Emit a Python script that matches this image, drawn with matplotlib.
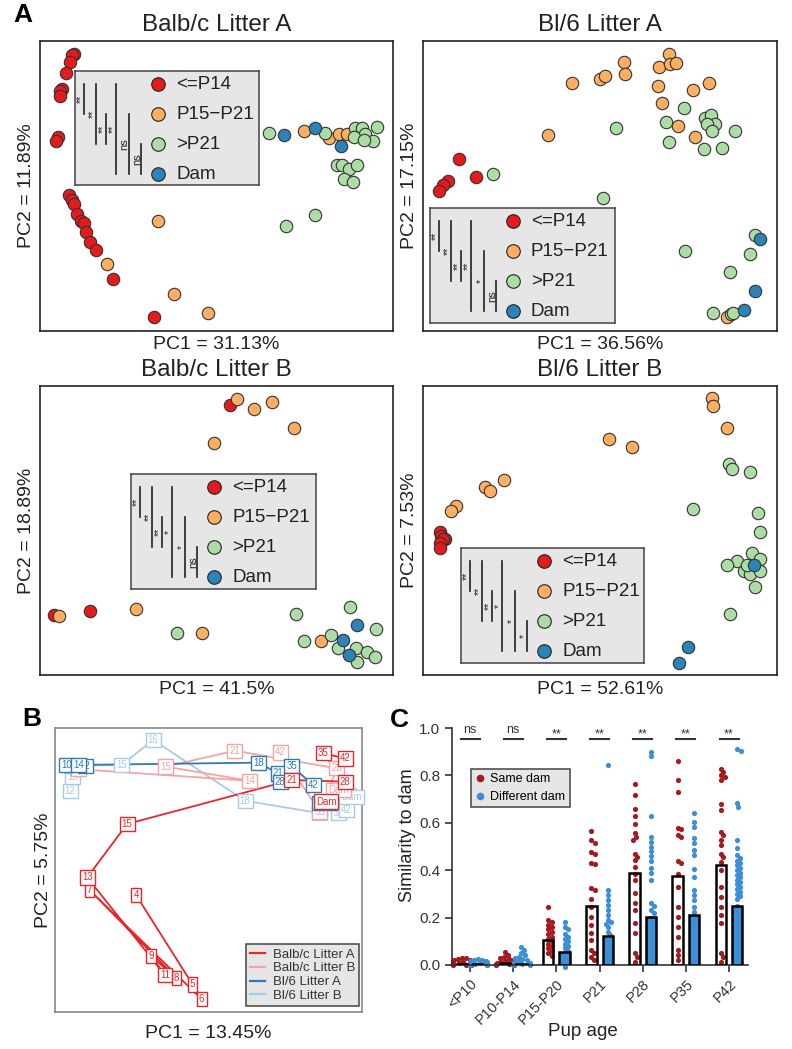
import numpy as np
import matplotlib
matplotlib.use("Agg")
import matplotlib.pyplot as plt
from matplotlib.lines import Line2D

plt.rcParams['font.family'] = ['Liberation Sans', 'DejaVu Sans']

W, H = 792, 1049

# ---- panel A: PCA scores (arbitrary units, 0-100 inside each box) ----
group_names = ['<=P14', 'P15\u2212P21', '>P21', 'Dam']
group_colors = ['#e41a1c', '#fdae61', '#abdda4', '#2b83ba']

balbc_a_le14 = [(9.6, 95.6), (9.2, 95.1), (8.5, 92.8), (7.5, 89.0), (6.1, 83.6), (5.8, 82.8),
                (5.6, 81.0), (5.1, 66.9), (4.6, 65.4), (8.2, 47.0), (9.0, 45.3), (9.6, 43.7),
                (10.6, 40.5), (11.5, 37.8), (12.5, 37.2), (13.1, 34.1), (14.3, 30.7), (16.0, 27.8),
                (20.8, 18.0), (32.3, 4.8)]
balbc_a_p15 = [(33.4, 37.8), (18.9, 23.2), (37.9, 12.9), (47.6, 6.3), (74.7, 69.0), (81.8, 66.7),
               (84.6, 68.0), (87.0, 67.8)]
balbc_a_gt21 = [(64.8, 68.4), (80.8, 68.4), (89.3, 70.0), (91.2, 70.0), (92.2, 68.0), (94.3, 65.5),
                (95.5, 70.3), (88.9, 66.9), (84.2, 57.1), (85.6, 57.4), (87.5, 56.0), (89.8, 57.1),
                (86.0, 52.5), (88.7, 51.4), (78.0, 39.9), (69.8, 36.1), (91.7, 65.7)]
balbc_a_dam = [(69.1, 67.5), (78.0, 70.1), (85.3, 63.8)]

bl6_a_le14 = [(10.2, 59.2), (14.9, 53.0), (7.1, 51.7), (5.7, 50.2), (4.5, 48.2)]
bl6_a_p15 = [(42.0, 85.6), (50.0, 86.8), (51.4, 87.9), (56.8, 92.8), (57.1, 88.5), (66.8, 91.0),
             (69.6, 95.6), (69.8, 92.2), (71.5, 92.4), (66.5, 84.5), (76.4, 83.2), (80.7, 85.5),
             (67.5, 78.6), (71.9, 70.7), (76.9, 66.9), (35.2, 67.7), (85.8, 4.8)]
bl6_a_gt21 = [(73.8, 77.0), (68.7, 72.1), (79.7, 73.6), (81.3, 74.4), (82.5, 71.3), (80.2, 71.5),
              (81.6, 69.0), (88.0, 69.0), (69.6, 65.2), (79.4, 62.9), (84.4, 63.1), (54.4, 70.0),
              (19.8, 54.0), (50.9, 46.0), (74.1, 27.5), (93.9, 33.2), (92.3, 26.7), (86.8, 20.3),
              (81.9, 6.3), (87.0, 5.7), (87.7, 6.3)]
bl6_a_dam = [(95.3, 31.8), (93.9, 13.8), (90.8, 7.4)]

balbc_b_le14 = [(53.8, 93.3), (14.2, 22.1), (4.0, 20.7)]
balbc_b_p15 = [(55.7, 95.5), (60.6, 91.9), (65.8, 94.6), (71.9, 85.5), (49.4, 80.4), (5.4, 20.5),
               (27.3, 22.7), (45.8, 14.7), (79.7, 11.8)]
balbc_b_gt21 = [(38.9, 14.7), (72.5, 21.0), (87.7, 23.6), (95.3, 15.8), (74.7, 11.8), (82.5, 13.8),
                (84.4, 9.3), (89.6, 9.3), (92.6, 8.1), (95.0, 6.3), (89.8, 4.6)]
balbc_b_dam = [(89.8, 17.3), (85.8, 12.1), (87.6, 6.9)]

bl6_b_le14 = [(4.7, 49.5), (5.2, 48.0), (6.1, 47.2), (5.7, 46.9), (4.7, 45.7), (4.9, 44.1)]
bl6_b_p15 = [(81.6, 95.9), (81.8, 93.1), (86.0, 85.5), (52.6, 81.8), (59.0, 78.9), (22.9, 67.4),
             (17.6, 64.9), (18.9, 63.7), (9.2, 58.5), (7.8, 56.8)]
bl6_b_gt21 = [(86.3, 72.9), (87.3, 71.2), (92.5, 70.3), (76.4, 57.6), (94.5, 56.2), (95.1, 49.5),
              (92.9, 42.1), (88.7, 39.5), (86.0, 38.2), (95.1, 40.0), (90.8, 36.1), (92.5, 34.9),
              (95.3, 35.9), (93.7, 30.3), (86.6, 21.1), (91.5, 38.0)]
bl6_b_dam = [(93.4, 38.2), (74.8, 9.6), (72.2, 4.3)]

pca_titles = ['Balb/c Litter A', 'Bl/6 Litter A', 'Balb/c Litter B', 'Bl/6 Litter B']
pc1_labels = ['PC1 = 31.13%', 'PC1 = 36.56%', 'PC1 = 41.5%', 'PC1 = 52.61%']
pc2_labels = ['PC2 = 11.89%', 'PC2 = 17.15%', 'PC2 = 18.89%', 'PC2 = 7.53%']
sig_balbc_a = ['**', '**', '**', '**', 'ns', 'ns']
sig_bl6_a = ['**', '**', '**', '**', '*', 'ns']
sig_balbc_b = ['**', '**', '**', '*', '*', 'ns']
sig_bl6_b = ['**', '**', '**', '*', '*', '*']

# ---- panel B: trajectories ----
traj_names = ['Balb/c Litter A', 'Balb/c Litter B', 'Bl/6 Litter A', 'Bl/6 Litter B']
traj_colors = ['#e8262a', '#f5a3a3', '#2c7bb6', '#a6cbe8']
balbc_a_days = ['4', '5', '6', '7', '8', '9', '11', '13', '15', '21', '28', '35', '42']
balbc_a_pc1 = [26.4, 44.8, 47.8, 11.2, 39.6, 31.2, 35.8, 10.5, 23.5, 77.1, 94.5, 87.4, 94.5]
balbc_a_pc2 = [41.2, 9.7, 4.5, 43.0, 11.9, 19.7, 13.0, 47.4, 66.2, 81.7, 81.1, 91.1, 89.3]
balbc_a_dampos = (88.3, 74.1)
balbc_b_days = ['7', '10', '14', '15', '21', '28', '35', '42']
balbc_b_pc1 = [6.5, 7.5, 63.5, 36.1, 58.6, 91.8, 86.3, 73.3]
balbc_b_pc2 = [86.0, 85.5, 81.4, 86.4, 92.0, 85.8, 70.5, 91.4]
balbc_b_dampos = (92.3, 78.2)
bl6_a_days = ['10', '12', '14', '18', '21', '28', '35', '42']
bl6_a_pc1 = [3.8, 9.8, 7.8, 66.2, 72.7, 73.3, 77.1, 84.1]
bl6_a_pc2 = [87.0, 86.6, 87.0, 87.8, 84.0, 81.1, 86.6, 79.9]
bl6_a_dampos = (87.9, 73.5)
bl6_b_days = ['12', '13', '14', '15', '16', '18', '21', '28', '35', '42']
bl6_b_pc1 = [4.9, 5.8, 5.4, 21.7, 32.0, 61.9, 86.3, 95.5, 92.3, 94.8]
bl6_b_pc2 = [77.9, 82.9, 86.6, 87.0, 95.8, 74.4, 70.0, 76.4, 70.0, 71.1]
bl6_b_dampos = (96.6, 75.8)

# ---- panel C: similarity to dam ----
ages = ['<P10', 'P10-P14', 'P15-P20', 'P21', 'P28', 'P35', 'P42']
sig_c = ['ns', 'ns', '**', '**', '**', '**', '**']
same_mean = [0.005, 0.01, 0.105, 0.25, 0.387, 0.375, 0.42]
diff_mean = [0.004, 0.005, 0.056, 0.122, 0.204, 0.21, 0.25]
same_p10 = [0.03, 0.028, 0.025, 0.022, 0.02, 0.018, 0.015, 0.013, 0.012, 0.01, 0.008, 0.007,
            0.005, 0.004, 0.003, 0.002, 0.001, 0.0, 0.0]
same_p10_14 = [0.055, 0.042, 0.035, 0.03, 0.025, 0.02, 0.015, 0.012, 0.01, 0.008, 0.005, 0.003,
               0.0, 0.0]
same_p15_20 = [0.245, 0.19, 0.18, 0.17, 0.16, 0.15, 0.14, 0.13, 0.12, 0.11, 0.1, 0.09, 0.08,
               0.07, 0.06, 0.05, 0.04]
same_p21 = [0.566, 0.527, 0.516, 0.478, 0.47, 0.431, 0.426, 0.323, 0.316, 0.277, 0.246, 0.204,
            0.169, 0.133, 0.105, 0.063, 0.049, 0.035, 0.021]
same_p28 = [0.763, 0.716, 0.66, 0.628, 0.597, 0.558, 0.541, 0.527, 0.47, 0.456, 0.442, 0.414,
            0.386, 0.358, 0.302, 0.26, 0.232, 0.176, 0.133, 0.049, 0.035, 0.014]
same_p35 = [0.86, 0.782, 0.729, 0.58, 0.572, 0.548, 0.538, 0.44, 0.431, 0.386, 0.33, 0.246,
            0.204, 0.162, 0.12, 0.063, 0.042, 0.021]
same_p42 = [0.829, 0.815, 0.8, 0.794, 0.78, 0.681, 0.653, 0.562, 0.548, 0.527, 0.506, 0.47,
            0.456, 0.435, 0.4, 0.33, 0.288, 0.246, 0.21, 0.176, 0.049, 0.035, 0.014]
diff_p10 = [0.025, 0.022, 0.02, 0.018, 0.015, 0.012, 0.01, 0.008, 0.006, 0.005, 0.003, 0.002,
            0.0, 0.0]
diff_p10_14 = [0.075, 0.062, 0.05, 0.042, 0.035, 0.03, 0.025, 0.02, 0.015, 0.012, 0.01, 0.008,
               0.005, 0.003, 0.0, 0.0]
diff_p15_20 = [0.18, 0.16, 0.15, 0.13, 0.12, 0.11, 0.1, 0.09, 0.08, 0.07, 0.06, 0.05, 0.04,
               0.03, 0.02, 0.01, -0.01]
diff_p21 = [0.843, 0.316, 0.295, 0.274, 0.253, 0.232, 0.211, 0.19, 0.18, 0.175, 0.16, 0.14,
            0.126, 0.105, 0.084, 0.063, 0.042, 0.021]
diff_p28 = [0.899, 0.881, 0.628, 0.541, 0.52, 0.5, 0.48, 0.46, 0.44, 0.41, 0.39, 0.36, 0.26,
            0.25, 0.23, 0.22, 0.2, 0.15, 0.1, 0.05]
diff_p35 = [0.643, 0.604, 0.583, 0.534, 0.513, 0.485, 0.463, 0.407, 0.372, 0.316, 0.295, 0.274,
            0.246, 0.225, 0.15, 0.1, 0.05]
diff_p42 = [0.913, 0.902, 0.684, 0.667, 0.527, 0.492, 0.463, 0.45, 0.44, 0.43, 0.42, 0.41, 0.4,
            0.39, 0.38, 0.37, 0.36, 0.35, 0.34, 0.33, 0.32, 0.31, 0.3, 0.29, 0.28, 0.25, 0.2,
            0.15, 0.1, 0.05]
same_pts = [same_p10, same_p10_14, same_p15_20, same_p21, same_p28, same_p35, same_p42]
diff_pts = [diff_p10, diff_p10_14, diff_p15_20, diff_p21, diff_p28, diff_p35, diff_p42]


def px_rect(l, t, r, b):
    return [l / W, 1 - b / H, (r - l) / W, (b - t) / H]


def fig_text(x, y, s, **kw):
    kw.setdefault('ha', 'center')
    kw.setdefault('va', 'center')
    fig.text(x / W, 1 - y / H, s, **kw)


def pca_legend(rect, sig):
    l, t, r, b = rect
    lax = fig.add_axes(px_rect(l, t, r, b))
    w, h = r - l, b - t
    lax.set_xlim(0, w)
    lax.set_ylim(h, 0)
    lax.set_facecolor('#e6e6e6')
    lax.set_xticks([])
    lax.set_yticks([])
    for s in lax.spines.values():
        s.set_color('#444444')
        s.set_linewidth(1.1)
    ys = [13.3 + 30 * i for i in range(4)]
    for yy, name, col in zip(ys, group_names, group_colors):
        lax.scatter([83], [yy], s=95, c=col, edgecolors='#222222', linewidths=0.8)
        lax.text(101, yy, name, fontsize=13.5, va='center', ha='left', color='#222222')
    pairs = [(0, 1), (0, 2), (1, 2), (0, 3), (1, 3), (2, 3)]
    line_x = [9, 20.7, 31.4, 41.4, 54, 66.3]
    for (i, j), lx, lab in zip(pairs, line_x, sig):
        lax.plot([lx, lx], [ys[i], ys[j]], color='#222222', lw=1.2)
        star = '*' in lab
        lax.text(lx - (3.2 if star else 4.3), (ys[i] + ys[j]) / 2, lab, rotation=90,
                 fontsize=7.5 if star else 8, ha='center', va='center', color='#222222')


def swarm(vals, d=4.2, sx=43.0, sy=237.0, maxw=0.2):
    placed = []
    offs = []
    for v in vals:
        y = v * sy
        cands = [0.0]
        for x0, y0 in placed:
            dy = y - y0
            if abs(dy) < d:
                dx = np.sqrt(d * d - dy * dy)
                cands += [x0 + dx, x0 - dx]
        cands.sort(key=abs)
        c = cands[0]
        for c in cands:
            if all((c - x0) ** 2 + (y - y0) ** 2 >= d * d - 1e-6 for x0, y0 in placed):
                break
        c = float(np.clip(c, -maxw * sx, maxw * sx))
        placed.append((c, y))
        offs.append(c / sx)
    return offs


fig = plt.figure(figsize=(W / 100, H / 100), dpi=100)

# ---------------- panel A ----------------
pca_sets = [
    [balbc_a_le14, balbc_a_p15, balbc_a_gt21, balbc_a_dam],
    [bl6_a_le14, bl6_a_p15, bl6_a_gt21, bl6_a_dam],
    [balbc_b_le14, balbc_b_p15, balbc_b_gt21, balbc_b_dam],
    [bl6_b_le14, bl6_b_p15, bl6_b_gt21, bl6_b_dam],
]
pca_boxes = [(40, 41, 393, 331), (423, 41, 777, 331), (40, 386, 393, 675), (423, 386, 777, 675)]
legend_boxes = [(75, 71, 259, 185), (430, 208, 615, 323), (131, 474, 316, 589), (461, 548, 644, 663)]
sigs = [sig_balbc_a, sig_bl6_a, sig_balbc_b, sig_bl6_b]

for k in range(4):
    l, t, r, b = pca_boxes[k]
    ax = fig.add_axes(px_rect(l, t, r, b))
    for pts, col in zip(pca_sets[k], group_colors):
        arr = np.array(pts)
        ax.scatter(arr[:, 0], arr[:, 1], s=80, c=col, edgecolors='#333333', linewidths=0.8)
    ax.set_xlim(0, 100)
    ax.set_ylim(0, 100)
    ax.set_xticks([])
    ax.set_yticks([])
    for s in ax.spines.values():
        s.set_linewidth(1.2)
        s.set_color('#222222')
    cx = (l + r) / 2
    fig_text(cx, t - 16, pca_titles[k], fontsize=17.5, color='#222222')
    fig_text(cx, b + 14, pc1_labels[k], fontsize=14, color='#222222')
    fig_text(l - 13, (t + b) / 2, pc2_labels[k], fontsize=14, rotation=90, color='#222222')
    pca_legend(legend_boxes[k], sigs[k])

fig_text(23, 15, 'A', fontsize=19, fontweight='bold')
fig_text(32, 719, 'B', fontsize=19, fontweight='bold')
fig_text(399, 720, 'C', fontsize=19, fontweight='bold')

# ---------------- panel B ----------------
axb = fig.add_axes(px_rect(55, 728, 362, 1012))
traj = [
    (balbc_a_days, balbc_a_pc1, balbc_a_pc2, balbc_a_dampos),
    (balbc_b_days, balbc_b_pc1, balbc_b_pc2, balbc_b_dampos),
    (bl6_a_days, bl6_a_pc1, bl6_a_pc2, bl6_a_dampos),
    (bl6_b_days, bl6_b_pc1, bl6_b_pc2, bl6_b_dampos),
]
draw_order = [3, 1, 2, 0]
for rank, k in enumerate(draw_order):
    days, x, y, dam = traj[k]
    col = traj_colors[k]
    axb.plot(x, y, color=col, lw=1.3, zorder=1 + rank * 0.1)
    for d, xx, yy in zip(days + ['Dam'], x + [dam[0]], y + [dam[1]]):
        axb.text(xx, yy, d, fontsize=7, color=col, ha='center', va='center', zorder=3 + rank,
                 bbox=dict(boxstyle='square,pad=0.22', fc='white', ec=col, lw=1.0))
axb.set_xlim(0, 100)
axb.set_ylim(0, 100)
axb.set_xticks([])
axb.set_yticks([])
for s in axb.spines.values():
    s.set_color('#888888')
    s.set_linewidth(1.2)
handles = [Line2D([], [], color=c, lw=1.6) for c in traj_colors]
lg = axb.legend(handles, traj_names, loc='lower right', bbox_to_anchor=(0.99, 0.021),
                borderaxespad=0, fontsize=9.5, handlelength=1.1, handletextpad=0.6,
                labelspacing=0.12, borderpad=0.3, fancybox=False, framealpha=1)
lg.get_frame().set_facecolor('#e6e6e6')
lg.get_frame().set_edgecolor('#444444')
lg.get_frame().set_linewidth(1.1)
lg.set_zorder(10)
for txt in lg.get_texts():
    txt.set_color('#333333')
fig_text(208, 1033, 'PC1 = 13.45%', fontsize=14, color='#222222')
fig_text(43, 870, 'PC2 = 5.75%', fontsize=14, rotation=90, color='#222222')

# ---------------- panel C ----------------
axc = fig.add_axes(px_rect(452, 728, 748, 965))
same_col = '#a8191e'
diff_col = '#3b8ed8'
pos = np.arange(len(ages))
off = 0.19
bw = 0.24
axc.bar(pos - off, same_mean, width=bw, color='white', edgecolor='none', zorder=1)
axc.bar(pos + off, diff_mean, width=bw, color=diff_col, edgecolor='none', zorder=1)
for i in range(len(ages)):
    sv = sorted(same_pts[i], reverse=True)
    dv = sorted(diff_pts[i], reverse=True)
    axc.scatter(pos[i] - off + np.array(swarm(sv)), sv, s=14, color=same_col, lw=0,
                zorder=2, clip_on=False)
    axc.scatter(pos[i] + off + np.array(swarm(dv)), dv, s=14, color=diff_col, lw=0,
                zorder=2, clip_on=False)
axc.bar(pos - off, same_mean, width=bw, color='none', edgecolor='black', lw=1.8, zorder=3)
axc.bar(pos + off, diff_mean, width=bw, color='none', edgecolor='black', lw=1.8, zorder=3)
for i, lab in enumerate(sig_c):
    yy = 0.978 if lab == 'ns' else 0.962
    axc.text(pos[i], yy, lab, ha='center', va='baseline', fontsize=9, color='#333333')
    axc.plot([pos[i] - 0.22, pos[i] + 0.22], [0.955, 0.955], color='#333333', lw=1.5,
             clip_on=False)
axc.set_xlim(-0.42, 6.44)
axc.set_ylim(0, 1.0)
axc.set_yticks([0.0, 0.2, 0.4, 0.6, 0.8, 1.0])
axc.set_yticklabels(['0.0', '0.2', '0.4', '0.6', '0.8', '1.0'])
axc.set_xticks(pos)
axc.set_xticklabels(ages, rotation=45, ha='right', rotation_mode='anchor')
axc.tick_params(direction='out', length=5, width=1.2, labelsize=11, colors='#333333')
axc.tick_params(axis='x', labelsize=10.5)
for s in ['top', 'right']:
    axc.spines[s].set_visible(False)
for s in ['left', 'bottom']:
    axc.spines[s].set_linewidth(1.2)
    axc.spines[s].set_color('#333333')
ch = [Line2D([], [], marker='o', ls='', color=same_col, ms=4.5),
      Line2D([], [], marker='o', ls='', color=diff_col, ms=4.5)]
lc = axc.legend(ch, ['Same dam', 'Different dam'], loc='upper left',
                bbox_to_anchor=(0.064, 0.827), borderaxespad=0, fontsize=9,
                handlelength=0.8, handletextpad=0.4, labelspacing=0.45, borderpad=0.35,
                fancybox=False, framealpha=1)
lc.get_frame().set_facecolor('#e6e6e6')
lc.get_frame().set_edgecolor('#444444')
lc.get_frame().set_linewidth(1.1)
fig_text(408, 835, 'Similarity to dam', fontsize=13, rotation=90, color='#222222')
fig_text(583, 1032, 'Pup age', fontsize=13.5, color='#222222')

fig.savefig('out.png', dpi=100)
